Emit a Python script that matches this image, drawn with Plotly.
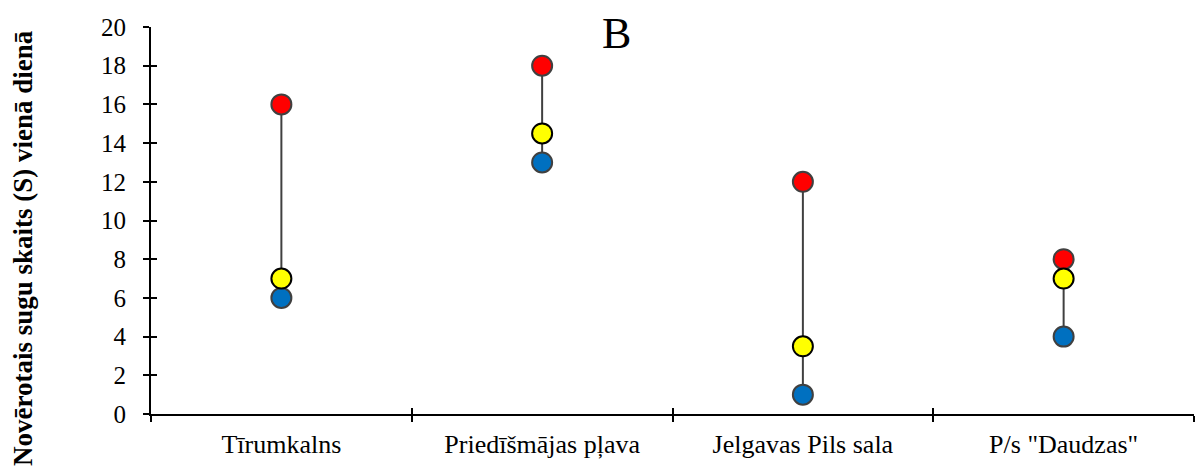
import plotly.graph_objects as go

# Species observed per day at each site
sites = ["Tīrumkalns", "Priedīšmājas pļava", "Jelgavas Pils sala", 'P/s "Daudzas"']
s_max = [16, 18, 12, 8]
s_mean = [7, 14.5, 3.5, 7]
s_min = [6, 13, 1, 4]

y_ticks = list(range(0, 21, 2))

SERIF = "Liberation Serif, Times New Roman, serif"
EDGE = "#404040"

W, H = 1198, 472
L, R, T, B = 151, 4, 27, 58

fig = go.Figure()

# range line from minimum to maximum per site
for site, lo, hi in zip(sites, s_min, s_max):
    fig.add_trace(go.Scatter(
        x=[site, site], y=[lo, hi], mode="lines",
        line=dict(color=EDGE, width=2), showlegend=False, hoverinfo="skip",
    ))

fig.add_trace(go.Scatter(
    x=sites, y=s_min, mode="markers", name="min",
    marker=dict(size=20, color="#0070C0", line=dict(color=EDGE, width=2)),
    showlegend=False,
))
fig.add_trace(go.Scatter(
    x=sites, y=s_max, mode="markers", name="max",
    marker=dict(size=20, color="#FF0000", line=dict(color=EDGE, width=2)),
    showlegend=False,
))
fig.add_trace(go.Scatter(
    x=sites, y=s_mean, mode="markers", name="mean",
    marker=dict(size=20, color="#FFFF00", line=dict(color="#000000", width=2)),
    showlegend=False,
))

pw = W - L - R
ph = H - T - B

fig.update_layout(
    width=W, height=H,
    margin=dict(l=L, r=R, t=T, b=B),
    paper_bgcolor="white", plot_bgcolor="white",
    font=dict(family=SERIF, color="black"),
    xaxis=dict(
        type="category", categoryorder="array", categoryarray=sites,
        range=[-0.5, 3.5], showline=True, linecolor="black", linewidth=2,
        ticks="outside", tickson="boundaries", ticklen=6, tickwidth=2, tickcolor="black",
        tickfont=dict(family=SERIF, size=26), showgrid=False, zeroline=False,
        ticklabelstandoff=6,
    ),
    xaxis2=dict(
        overlaying="x", type="linear", range=[-0.5, 3.5],
        tickvals=[-0.5, 0.5, 1.5, 2.5, 3.5], ticks="inside", ticklen=6, tickwidth=2,
        tickcolor="black", showticklabels=False, showgrid=False, zeroline=False,
        anchor="y", side="bottom",
    ),
    yaxis=dict(
        range=[0, 20], tickvals=y_ticks, showline=True, linecolor="black", linewidth=2,
        ticks="outside", ticklen=6, tickwidth=2, tickcolor="black",
        tickfont=dict(family=SERIF, size=25), showgrid=False, zeroline=False,
        ticklabelstandoff=12,
    ),
    yaxis2=dict(
        overlaying="y", range=[0, 20], tickvals=y_ticks, ticks="inside", ticklen=6,
        tickwidth=2, tickcolor="black", showticklabels=False, showgrid=False,
        zeroline=False, anchor="x", side="left",
    ),
    annotations=[
        dict(text="B", xref="paper", yref="paper",
             x=(616 - L) / pw, y=(H - B - 33) / ph, xanchor="center", yanchor="middle",
             showarrow=False, font=dict(family=SERIF, size=44, color="black")),
        dict(text="<b>Novērotais sugu skaits (S) vienā dienā</b>", xref="paper", yref="paper",
             x=(23 - L) / pw, y=(H - B - 248) / ph, xanchor="center", yanchor="middle",
             textangle=-90, showarrow=False,
             font=dict(family=SERIF, size=27, color="black")),
    ],
)

# invisible trace so the overlay axes are drawn
fig.add_trace(go.Scatter(x=[None], y=[None], xaxis="x2", yaxis="y2",
                         showlegend=False, hoverinfo="skip"))

fig.write_html("out.html")
